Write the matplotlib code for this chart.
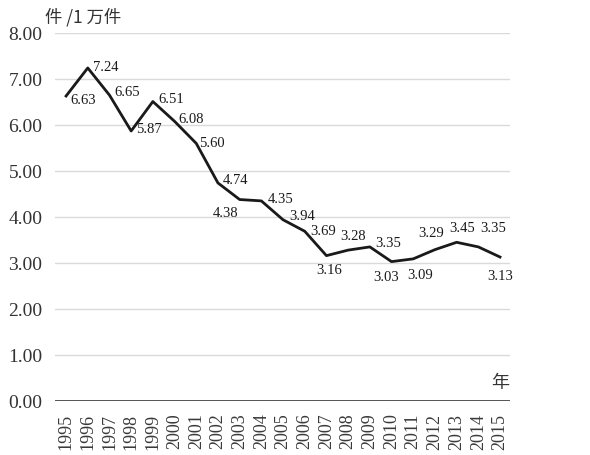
import matplotlib
import numpy as np

matplotlib.use("Agg")
import matplotlib.pyplot as plt

years = list(range(1995, 2016))
rates = [6.63, 7.24, 6.65, 5.87, 6.51, 6.08, 5.60, 4.74, 4.38, 4.35, 3.94,
         3.69, 3.16, 3.28, 3.35, 3.03, 3.09, 3.29, 3.45, 3.35, 3.13]
y_ticks = [0, 1, 2, 3, 4, 5, 6, 7, 8]
y_unit = "件 /1 万件"
x_unit = "年"

# centre of each value label relative to its point, in pixels (up is +)
label_off = [(17, -4), (18, 0), (18, 3), (18, 1), (18, 2), (17, 2), (16, 0),
             (18, 2), (-14, -14), (19, 1), (19, 3), (18, 0), (3, -15), (5, 14),
             (18, 3), (-5, -16), (7, -17), (-4, 16), (6, 14), (15, 18), (0, -19)]

SERIF = ["Liberation Serif", "DejaVu Serif"]
CJK = ["Noto Sans CJK JP", "DejaVu Sans"]

fig = plt.figure(figsize=(5.9, 4.55), dpi=100)
ax = fig.add_axes([55 / 590, 54 / 455, 455 / 590, 368 / 455])
ax.set_xlim(1994.49, 2015.46)
ax.set_ylim(0, 8)

for v in y_ticks[1:]:
    ax.axhline(v, color="#dadada", lw=1.0, zorder=1)
ax.axhline(0, color="#555555", lw=1.4, zorder=2)

ax.plot(years, rates, color="#1a1a1a", lw=2.0, zorder=3)

for x, y, (dx, dy) in zip(years, rates, label_off):
    ax.annotate(f"{y:.2f}", (x, y), xytext=(dx, dy), textcoords="offset pixels",
                ha="center", va="center", fontsize=10.5, family=SERIF,
                color="#1a1a1a", zorder=4)

ax.set_yticks(y_ticks)
ax.set_yticklabels([f"{v:.2f}" for v in y_ticks], family=SERIF, fontsize=14, color="#333333")
ax.set_xticks(years)
ax.set_xticklabels([str(y) for y in years], rotation=90, family=SERIF,
                   fontsize=13, color="#3a3a3a")
ax.tick_params(axis="both", length=0)
ax.tick_params(axis="y", pad=9)
ax.tick_params(axis="x", pad=9)
for s in ax.spines.values():
    s.set_visible(False)

fig.text(83 / 590, 1 - 17 / 455, y_unit, ha="center", va="center",
         family=CJK, fontsize=12.5, color="#333333")
ax.text(2015.0, 0.4, x_unit, ha="center", va="center", family=CJK,
        fontsize=13, color="#333333")

fig.savefig("out.png", dpi=100, facecolor="white")
